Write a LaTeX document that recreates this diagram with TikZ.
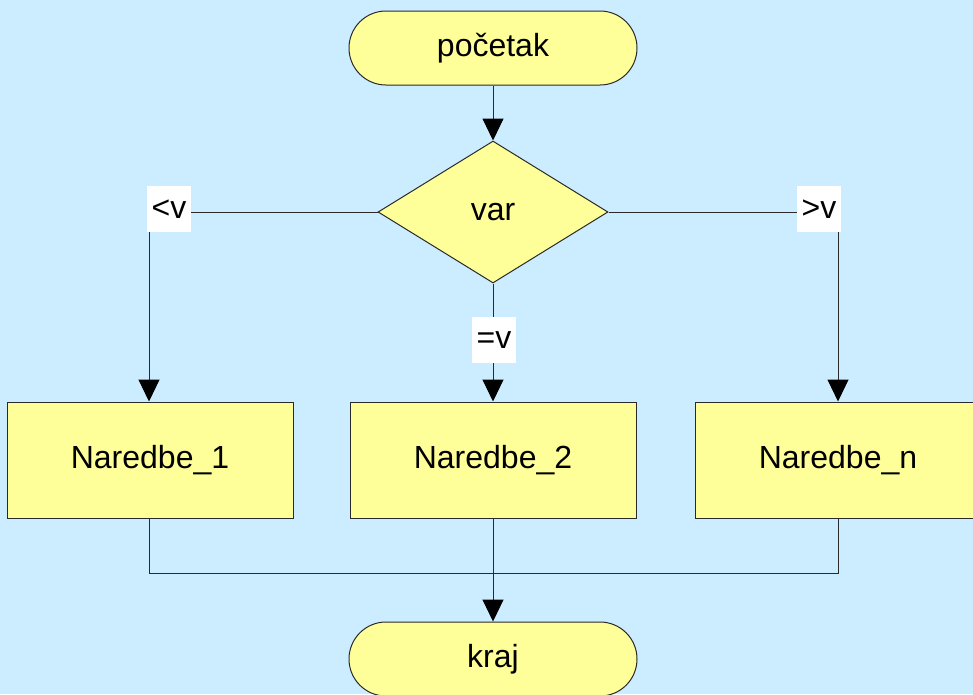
\documentclass[tikz,border=0pt]{standalone}
\usepackage{fontspec}
\setmainfont{Liberation Sans}
\usetikzlibrary{shapes.geometric,arrows.meta}
\definecolor{bgblue}{HTML}{CCECFF}
\definecolor{boxyellow}{HTML}{FFFF99}
\definecolor{edge}{HTML}{2A2A2A}
\tikzset{
  base/.style={draw=edge, line width=1pt, fill=boxyellow, font=\fontsize{32}{36}\selectfont, inner sep=0pt},
  term/.style={base, rectangle, rounded corners=37pt, minimum width=288pt, minimum height=74pt},
  decide/.style={base, diamond, minimum width=230pt, minimum height=142pt},
  proc/.style={base, rectangle, minimum width=286pt, minimum height=116pt},
  lbl/.style={fill=white, inner sep=0pt, minimum width=44pt, minimum height=46pt, font=\fontsize{32}{36}\selectfont},
  conn/.style={draw=edge, line width=1pt},
  arr/.style={conn, -{Triangle[width=21pt,length=22pt,fill=black,color=black]}}
}
\begin{document}
\begin{tikzpicture}[x=1pt,y=-1pt]
\clip (0,0) rectangle (973,694);
\fill[bgblue] (0,0) rectangle (973,694);
\node[term] (start) at (493,48) {početak};
\node[decide] (var) at (493,212) {var};
\node[proc] (n1) at (150,460) {Naredbe\_1};
\node[proc] (n2) at (493,460) {Naredbe\_2};
\node[proc] (nn) at (838,460) {Naredbe\_n};
\node[term] (end) at (493,659) {kraj};
\coordinate (lc) at (149,212);
\coordinate (rc) at (838,212);
\coordinate (jl) at (149,573);
\coordinate (jm) at (493,573);
\coordinate (jr) at (838,573);
\draw[arr] (start.south) -- (var.north);
\draw[arr] (var.west) -- (lc) -- (lc |- n1.north);
\draw[arr] (var.east) -- (rc) -- (rc |- nn.north);
\draw[arr] (var.south) -- (n2.north);
\draw[conn] (lc |- n1.south) -- (jl) -- (jr) -- (rc |- nn.south);
\draw[arr] (n2.south) -- (end.north);
\node[lbl] (ll) at (169,209) {<v};
\node[lbl] (lr) at (819,209) {>v};
\node[lbl] (lm) at (494,340) {=v};
\end{tikzpicture}
\end{document}
